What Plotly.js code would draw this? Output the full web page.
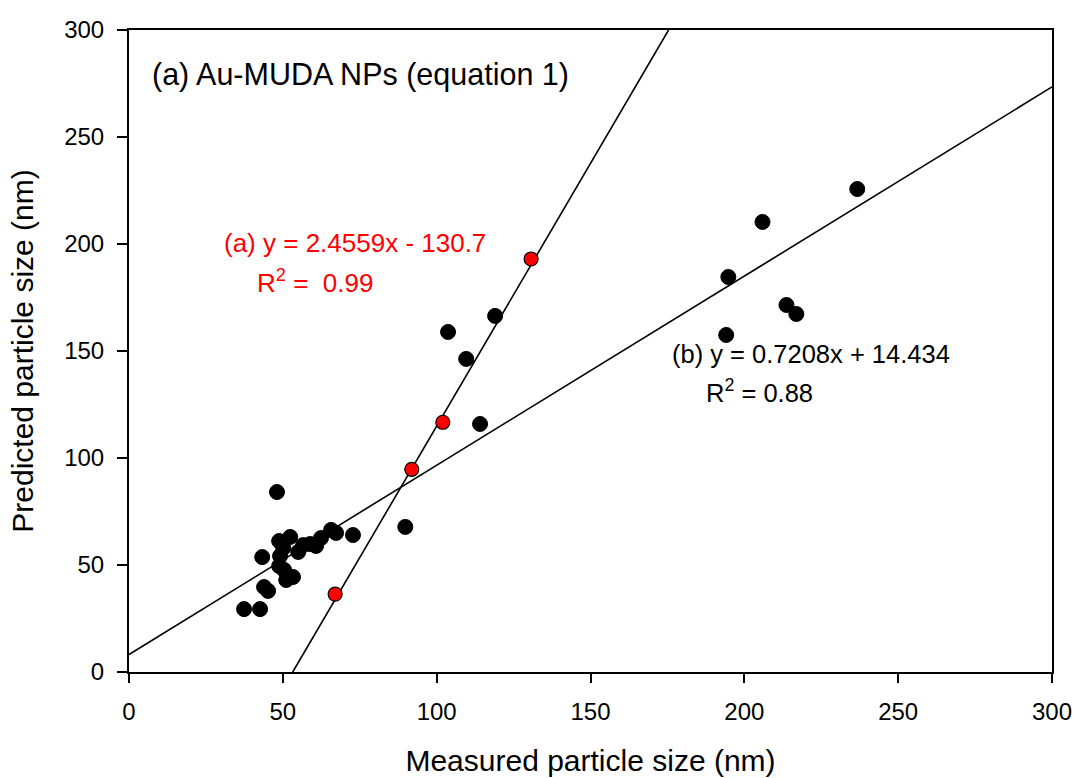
<!DOCTYPE html>
<html>
<head>
<meta charset="utf-8">
<script src="https://cdn.plot.ly/plotly-3.0.1.min.js"></script>
<style>html,body{margin:0;padding:0;background:#fff;}#chart{width:1077px;height:778px;}</style>
</head>
<body>
<div id="chart"></div>
<script>
// Black points: measured (x) vs predicted (y)
const blackX = [37.4, 42.6, 43.3, 43.9, 45.2, 48.1, 48.8, 52.4, 50.1, 49.1, 48.8, 50.4, 51.1, 53.3, 55.0, 56.6, 58.9, 60.8, 62.4, 65.7, 67.3, 72.8, 89.8, 114.1, 103.7, 109.6, 119.0, 194.8, 194.1, 205.9, 213.7, 216.9, 236.7];
const blackY = [29.4, 29.4, 53.7, 39.7, 37.9, 84.1, 61.2, 63.1, 57.9, 54.2, 49.5, 47.7, 43.0, 44.4, 56.1, 59.3, 59.8, 58.9, 62.6, 66.4, 65.0, 64.0, 67.8, 115.9, 158.9, 146.3, 166.4, 184.6, 157.5, 210.3, 171.5, 167.3, 225.7];
// Red points
const redX = [67.0, 91.9, 102.0, 130.7];
const redY = [36.4, 94.7, 116.7, 193.0];
// Fit lines as drawn: [slope, intercept]
const fitA = [2.4559, -130.7];
const fitB = [0.884, 8.2];
const xTicks = [0, 50, 100, 150, 200, 250, 300];
const yTicks = [0, 50, 100, 150, 200, 250, 300];

const xmax = 300;
const ax0 = -fitA[1] / fitA[0];
const ax1 = (300 - fitA[1]) / fitA[0];

const traces = [
  {x: [ax0, ax1], y: [fitA[0]*ax0 + fitA[1], fitA[0]*ax1 + fitA[1]], mode: 'lines', line: {color: '#000', width: 1.6}, hoverinfo: 'skip'},
  {x: [0, xmax], y: [fitB[1], fitB[0]*xmax + fitB[1]], mode: 'lines', line: {color: '#000', width: 1.6}, hoverinfo: 'skip'},
  {x: blackX, y: blackY, mode: 'markers', marker: {color: '#000', size: 15, line: {color: '#000', width: 1}}},
  {x: redX, y: redY, mode: 'markers', marker: {color: '#ff0000', size: 14, line: {color: '#000', width: 1.2}}}
];

const font = 'Liberation Sans, Arial, sans-serif';
const layout = {
  width: 1077, height: 778,
  margin: {l: 129, r: 25, t: 30, b: 106},
  paper_bgcolor: '#fff', plot_bgcolor: '#fff',
  showlegend: false,
  font: {family: font, color: '#000', size: 24},
  xaxis: {
    range: [0, 300], tickvals: xTicks, ticktext: xTicks.map(String),
    showgrid: false, zeroline: false, showline: true, linecolor: '#000', linewidth: 2, mirror: true,
    ticks: 'outside', ticklen: 9, tickwidth: 2, tickcolor: '#000', ticklabelstandoff: 8,
    tickfont: {family: font, size: 24},
    title: {text: 'Measured particle size (nm)', font: {family: font, size: 30}, standoff: 26}
  },
  yaxis: {
    range: [0, 300], tickvals: yTicks, ticktext: yTicks.map(String),
    showgrid: false, zeroline: false, showline: true, linecolor: '#000', linewidth: 2, mirror: true,
    ticks: 'outside', ticklen: 10, tickwidth: 2, tickcolor: '#000', ticklabelstandoff: 8,
    tickfont: {family: font, size: 24},
    title: {text: 'Predicted particle size (nm)', font: {family: font, size: 30}, standoff: 22}
  },
  annotations: [
    {xref: 'paper', yref: 'paper', x: 0.0228, y: 0.93, xanchor: 'left', yanchor: 'middle', showarrow: false,
     text: '(a) Au-MUDA NPs (equation 1)', font: {family: font, size: 30.5, color: '#000'}},
    {xref: 'x', yref: 'y', x: 30.2, y: 200.5, xanchor: 'left', yanchor: 'middle', showarrow: false,
     text: '(a) y = 2.4559x - 130.7', font: {family: font, size: 26, color: '#ff0000'}},
    {xref: 'x', yref: 'y', x: 41.0, y: 182.5, xanchor: 'left', yanchor: 'middle', showarrow: false,
     text: 'R<sup>2</sup> =  0.99', font: {family: font, size: 26, color: '#ff0000'}},
    {xref: 'x', yref: 'y', x: 175.9, y: 148.6, xanchor: 'left', yanchor: 'middle', showarrow: false,
     text: '(b) y = 0.7208x + 14.434', font: {family: font, size: 25.5, color: '#000'}},
    {xref: 'x', yref: 'y', x: 187.0, y: 131.5, xanchor: 'left', yanchor: 'middle', showarrow: false,
     text: 'R<sup>2</sup> = 0.88', font: {family: font, size: 25.5, color: '#000'}}
  ]
};
Plotly.newPlot('chart', traces, layout, {staticPlot: true, displayModeBar: false});
</script>
</body>
</html>
